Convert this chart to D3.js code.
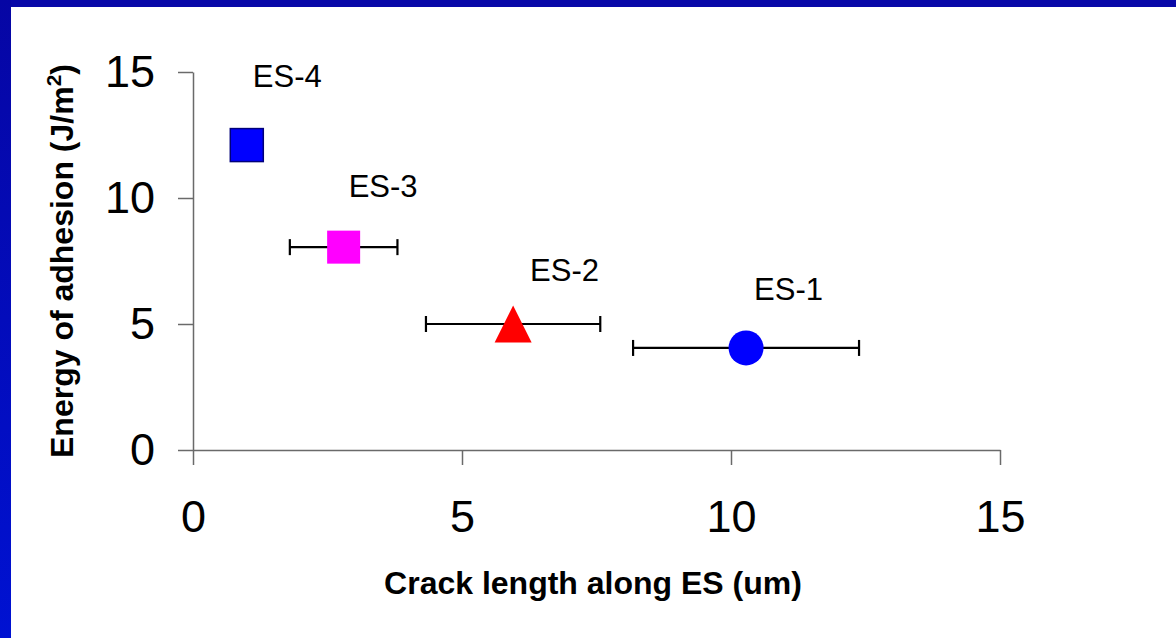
<!DOCTYPE html>
<html>
<head>
<meta charset="utf-8">
<script src="https://cdn.jsdelivr.net/npm/d3@7"></script>
<style>
  html, body { margin: 0; padding: 0; background: #ffffff; }
  svg { display: block; font-family: "Liberation Sans", Arial, sans-serif; }
</style>
</head>
<body>
<svg id="chart" width="1176" height="638"></svg>
<script>
// Samples and their measured values
const samples = ["ES-1", "ES-2", "ES-3", "ES-4"];
const crackLength = [10.28, 5.95, 2.8, 1.0];     // um
const crackLengthErr = [2.1, 1.62, 1.0, 0];      // +/- um
const adhesionEnergy = [4.05, 5.0, 8.05, 12.1];  // J/m^2
const markerShapes = ["circle", "triangle", "square", "square"];
const markerColors = ["#0000ff", "#ff0000", "#ff00ff", "#0000ff"];
const xTicks = [0, 5, 10, 15];
const yTicks = [0, 5, 10, 15];

const svg = d3.select("#chart");
const W = 1176, H = 638;

// Slide frame: dark blue bands along the top and left edges
const defs = svg.append("defs");
const grad = defs.append("linearGradient")
  .attr("id", "edge").attr("x1", 0).attr("y1", 0).attr("x2", 0).attr("y2", 1);
grad.append("stop").attr("offset", "0%").attr("stop-color", "#0606a4");
grad.append("stop").attr("offset", "100%").attr("stop-color", "#0012d2");
svg.append("rect").attr("x", 0).attr("y", 0).attr("width", W).attr("height", H).attr("fill", "#ffffff");
svg.append("rect").attr("x", 0).attr("y", 0).attr("width", W).attr("height", 7).attr("fill", "#0808a8");
svg.append("rect").attr("x", 0).attr("y", 0).attr("width", 11).attr("height", H).attr("fill", "url(#edge)");

const x = d3.scaleLinear().domain([0, 15]).range([193, 1000]);
const y = d3.scaleLinear().domain([0, 15]).range([450, 72]);

const axisColor = "#6a6a6a";

// Axes
const gx = svg.append("g").attr("transform", `translate(0,${y(0)})`)
  .call(d3.axisBottom(x).tickValues(xTicks).tickSize(15).tickSizeOuter(0).tickPadding(35).tickFormat(d3.format("d")));
const gy = svg.append("g").attr("transform", `translate(${x(0)},0)`)
  .call(d3.axisLeft(y).tickValues(yTicks).tickSize(15).tickSizeOuter(0).tickPadding(23).tickFormat(d3.format("d")));

[gx, gy].forEach(g => {
  g.select(".domain").attr("stroke", axisColor).attr("stroke-width", 1.5);
  g.selectAll(".tick line").attr("stroke", axisColor).attr("stroke-width", 1.5);
  g.selectAll(".tick text")
    .attr("fill", "#000")
    .style("font-family", "'Liberation Sans', Arial, sans-serif")
    .style("font-size", "45px");
});

// Axis titles
svg.append("text")
  .attr("x", 593).attr("y", 594)
  .attr("text-anchor", "middle")
  .style("font-size", "32px").style("font-weight", "bold")
  .text("Crack length along ES (um)");

const yTitle = svg.append("text")
  .attr("transform", "translate(73,261) rotate(-90)")
  .attr("text-anchor", "middle")
  .style("font-size", "32px").style("font-weight", "bold");
yTitle.append("tspan").text("Energy of adhesion (J/m");
yTitle.append("tspan").attr("dy", -12).style("font-size", "21px").text("2");
yTitle.append("tspan").attr("dy", 12).text(")");

const points = samples.map((name, i) => ({
  name,
  x: crackLength[i],
  xe: crackLengthErr[i],
  y: adhesionEnergy[i],
  shape: markerShapes[i],
  color: markerColors[i]
}));

// Horizontal error bars with end caps
const bars = svg.append("g").attr("stroke", "#000").attr("stroke-width", 2.2);
points.filter(p => p.xe > 0).forEach(p => {
  const yy = y(p.y);
  bars.append("line").attr("x1", x(p.x - p.xe)).attr("x2", x(p.x + p.xe)).attr("y1", yy).attr("y2", yy);
  [p.x - p.xe, p.x + p.xe].forEach(v => {
    bars.append("line").attr("x1", x(v)).attr("x2", x(v)).attr("y1", yy - 8).attr("y2", yy + 8);
  });
});

// Markers
const marks = svg.append("g");
points.forEach(p => {
  const cx = x(p.x), cy = y(p.y);
  if (p.shape === "circle") {
    marks.append("circle").attr("cx", cx).attr("cy", cy).attr("r", 17.5).attr("fill", p.color);
  } else if (p.shape === "triangle") {
    const s = 37;
    marks.append("path")
      .attr("d", `M${cx},${cy - s / 2}L${cx + s / 2},${cy + s / 2}L${cx - s / 2},${cy + s / 2}Z`)
      .attr("fill", p.color);
  } else {
    const s = 33;
    marks.append("rect")
      .attr("x", cx - s / 2).attr("y", cy - s / 2).attr("width", s).attr("height", s)
      .attr("fill", p.color)
      .attr("stroke", p.name === "ES-4" ? "#00007a" : "none")
      .attr("stroke-width", 1.5);
  }
});

// Sample labels above and to the right of each marker
const labelOffset = { "ES-1": [8, -48], "ES-2": [17, -43], "ES-3": [5, -50], "ES-4": [6, -58] };
svg.append("g").selectAll("text").data(points).join("text")
  .attr("x", d => x(d.x) + labelOffset[d.name][0])
  .attr("y", d => y(d.y) + labelOffset[d.name][1])
  .style("font-size", "31px")
  .attr("fill", "#000")
  .text(d => d.name);
</script>
</body>
</html>
